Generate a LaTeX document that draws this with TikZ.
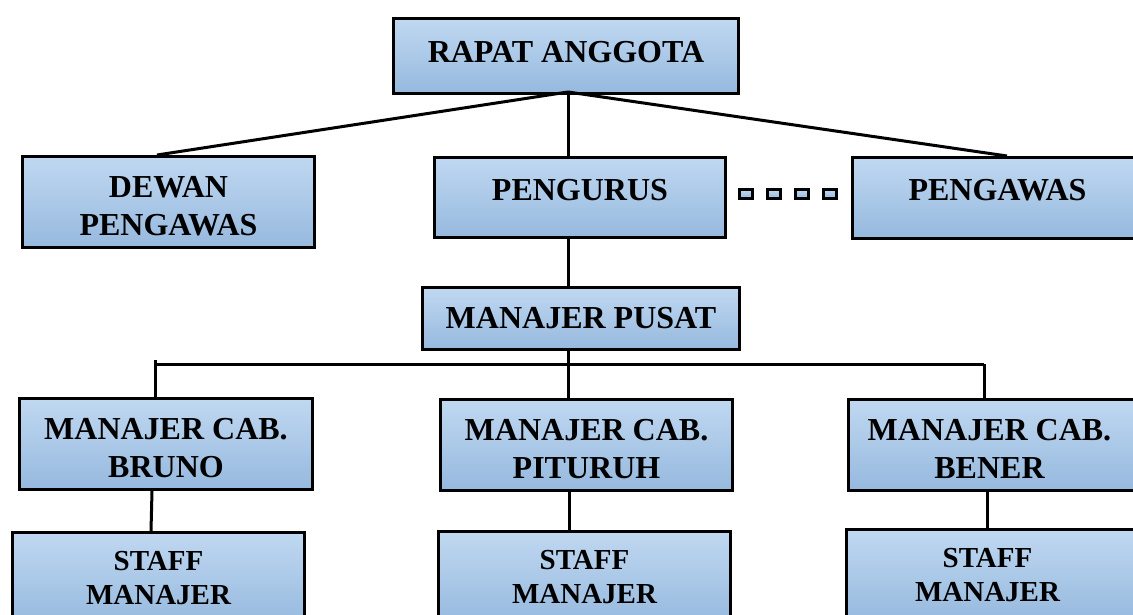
\documentclass[tikz,border=0pt]{standalone}
\usepackage{fontspec}
\setmainfont{Liberation Serif}
\definecolor{boxtop}{RGB}{192,216,241}
\definecolor{boxbot}{RGB}{150,185,222}
\newcommand{\twolines}[2]{\raisebox{-7pt}[\height][\depth]{\begin{tabular}{@{}c@{}}#1\\#2\end{tabular}}}
\tikzset{
  box/.style={draw=black, line width=3pt, top color=boxtop, bottom color=boxbot,
    align=center, inner sep=0pt, anchor=north west,
    font=\bfseries\fontsize{32}{38.5}\selectfont},
  staffbox/.style={box, font=\bfseries\fontsize{29}{34}\selectfont},
  dot/.style={draw=black, line width=3pt, top color=boxtop, bottom color=boxbot,
    minimum width=13pt, minimum height=9pt, inner sep=0pt, anchor=north west},
  link/.style={line width=3pt, draw=black}
}
\begin{document}
\begin{tikzpicture}[x=1pt,y=-1pt]
\useasboundingbox (0,0) rectangle (1133,615);
% nodes
\node[box, minimum width=345pt, minimum height=75pt] (ra) at (392,17) {\raisebox{9pt}{RAPAT ANGGOTA}};
\node[box, minimum width=292pt, minimum height=91pt] (dp) at (21,155) {\twolines{DEWAN}{PENGAWAS}};
\node[box, minimum width=291pt, minimum height=80pt] (pg) at (433,156) {\raisebox{16pt}{PENGURUS}};
\node[box, minimum width=300pt, minimum height=81pt] (pw) at (851,156) {\hspace*{-10pt}\raisebox{16pt}{PENGAWAS}};
\node[box, minimum width=317pt, minimum height=62pt] (mp) at (421,286) {MANAJER PUSAT};
\node[box, minimum width=293pt, minimum height=91pt] (mb) at (18,397) {\twolines{MANAJER CAB.}{BRUNO}};
\node[box, minimum width=292pt, minimum height=91pt] (mt) at (439,398) {\twolines{MANAJER CAB.}{PITURUH}};
\node[box, minimum width=290pt, minimum height=91pt] (mn) at (847,398) {\hspace*{-8pt}\twolines{MANAJER CAB.}{BENER}};
\node[staffbox, minimum width=292pt, minimum height=92pt] (s1) at (11,531) {STAFF\\MANAJER};
\node[staffbox, minimum width=292pt, minimum height=92pt] (s2) at (437,530) {STAFF\\MANAJER};
\node[staffbox, minimum width=290pt, minimum height=92pt] (s3) at (845,528) {\hspace*{-8pt}STAFF\\\hspace*{-8pt}MANAJER};
\node[dot] (d1) at (738,188) {};
\node[dot] (d2) at (766,188) {};
\node[dot] (d3) at (794,188) {};
\node[dot] (d4) at (822,188) {};
% coordinates
\coordinate (hub) at (568,92);
\coordinate (bl) at (155,364);
\coordinate (bm) at (568,364);
\coordinate (br) at (984,364);
% connectors
\draw[link] (hub) -- (dp.north -| 157,0);
\draw[link] (hub) -- (pg.north -| hub);
\draw[link] (hub) -- (pw.north -| 1007,0);
\draw[link] (pg.south -| hub) -- (mp.north -| hub);
\draw[link] (mp.south -| bm) -- (mt.north -| bm);
\draw[link] (bl) -- (br);
\draw[link] ([yshift=4pt]bl) -- (mb.north -| bl);
\draw[link] (br) -- (mn.north -| br);
\draw[link] (mb.south -| 152,0) -- (s1.north -| 151,0);
\draw[link] (mt.south -| 569,0) -- (s2.north -| 569,0);
\draw[link] (mn.south -| 987,0) -- (s3.north -| 987,0);
\end{tikzpicture}
\end{document}
